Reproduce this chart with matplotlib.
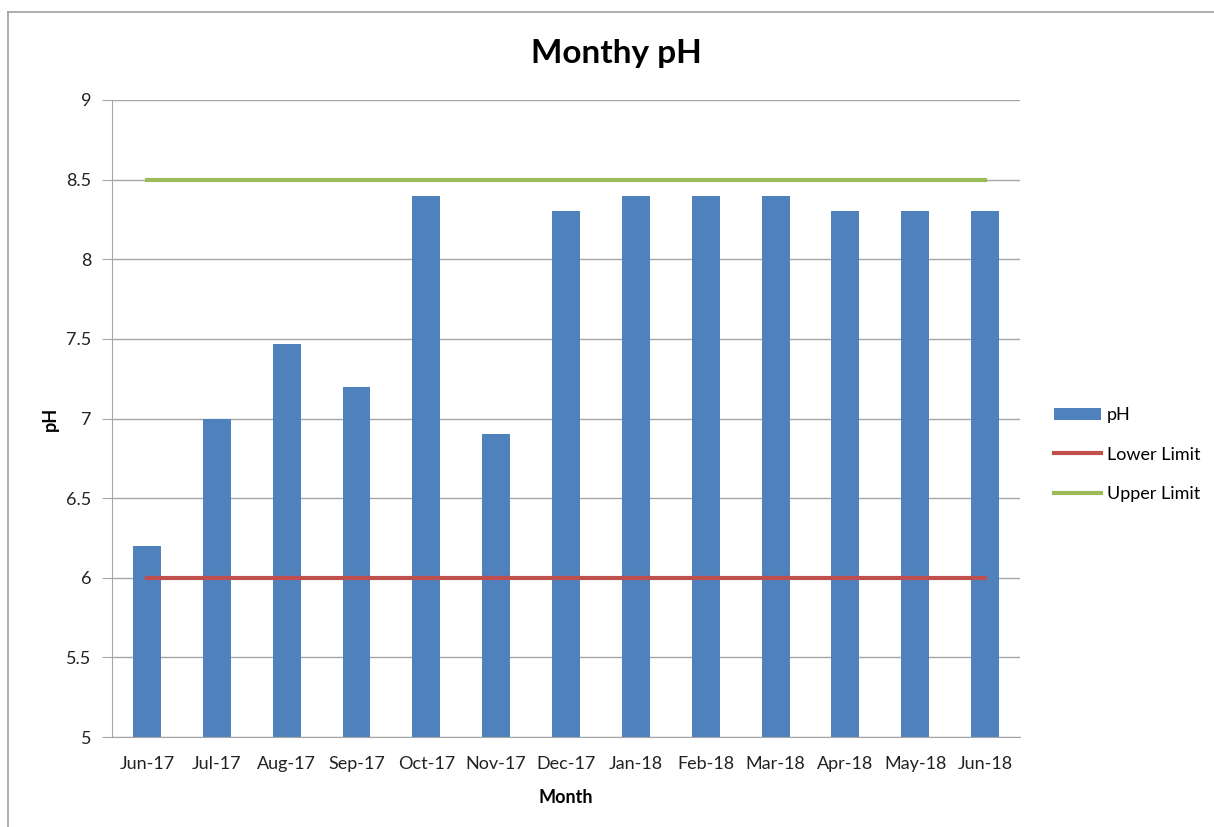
import matplotlib.pyplot as plt
from matplotlib.lines import Line2D
import numpy as np

plt.rcParams['font.family'] = ['Lato', 'DejaVu Sans']

months = ['Jun-17', 'Jul-17', 'Aug-17', 'Sep-17', 'Oct-17', 'Nov-17', 'Dec-17',
          'Jan-18', 'Feb-18', 'Mar-18', 'Apr-18', 'May-18', 'Jun-18']
ph = [6.2, 7.0, 7.47, 7.2, 8.4, 6.9, 8.3, 8.4, 8.4, 8.4, 8.3, 8.3, 8.3]
lower_limit = [6.0] * len(months)
upper_limit = [8.5] * len(months)

fig = plt.figure(figsize=(12.14, 8.27), dpi=100)
ax = fig.add_axes([0.0923, 0.1088, 0.7479, 0.7703])

x = np.arange(len(months))
bars = ax.bar(x, ph, width=0.4, color='#4F81BD', label='pH', zorder=2)
lo, = ax.plot(x, lower_limit, color='#C0504D', lw=3, label='Lower Limit', zorder=3)
hi, = ax.plot(x, upper_limit, color='#9BBB59', lw=3, label='Upper Limit', zorder=3)

ax.set_xlim(-0.5, len(months) - 0.5)
ax.set_ylim(5, 9)
ax.set_yticks(np.arange(5, 9.01, 0.5))
ax.set_yticklabels(['5', '5.5', '6', '6.5', '7', '7.5', '8', '8.5', '9'])
ax.set_xticks(x)
ax.set_xticklabels(months)
ax.grid(axis='y', color='#A6A6A6', lw=1, zorder=0)
ax.set_axisbelow(True)

for s in ['top', 'right']:
    ax.spines[s].set_visible(False)
for s in ['left', 'bottom']:
    ax.spines[s].set_color('#A6A6A6')
ax.tick_params(axis='y', length=7, color='#A6A6A6', labelsize=13, pad=8, labelcolor='#222222')
ax.tick_params(axis='x', length=0, labelsize=13, pad=14, labelcolor='#222222')

fig.text(0.508, 0.935, 'Monthy pH', fontsize=24, fontweight='bold', ha='center', va='center')
ax.set_xlabel('Month', fontsize=13, fontweight='bold', labelpad=12)
ax.set_ylabel('pH', fontsize=13, fontweight='bold', labelpad=5)

ax.legend([bars, lo, hi], ['pH', 'Lower Limit', 'Upper Limit'],
          loc='center left', bbox_to_anchor=(1.02, 0.443), frameon=False,
          fontsize=13, handlelength=2.6, labelspacing=1.3, handletextpad=0.3)

# outer chart border (top and left only visible)
fig.add_artist(Line2D([0.0066, 1.0], [0.9855, 0.9855], color='#A0A0A0', lw=1.2))
fig.add_artist(Line2D([0.0066, 0.0066], [0.0, 0.9855], color='#A0A0A0', lw=1.2))

plt.savefig('out.png', dpi=100)
